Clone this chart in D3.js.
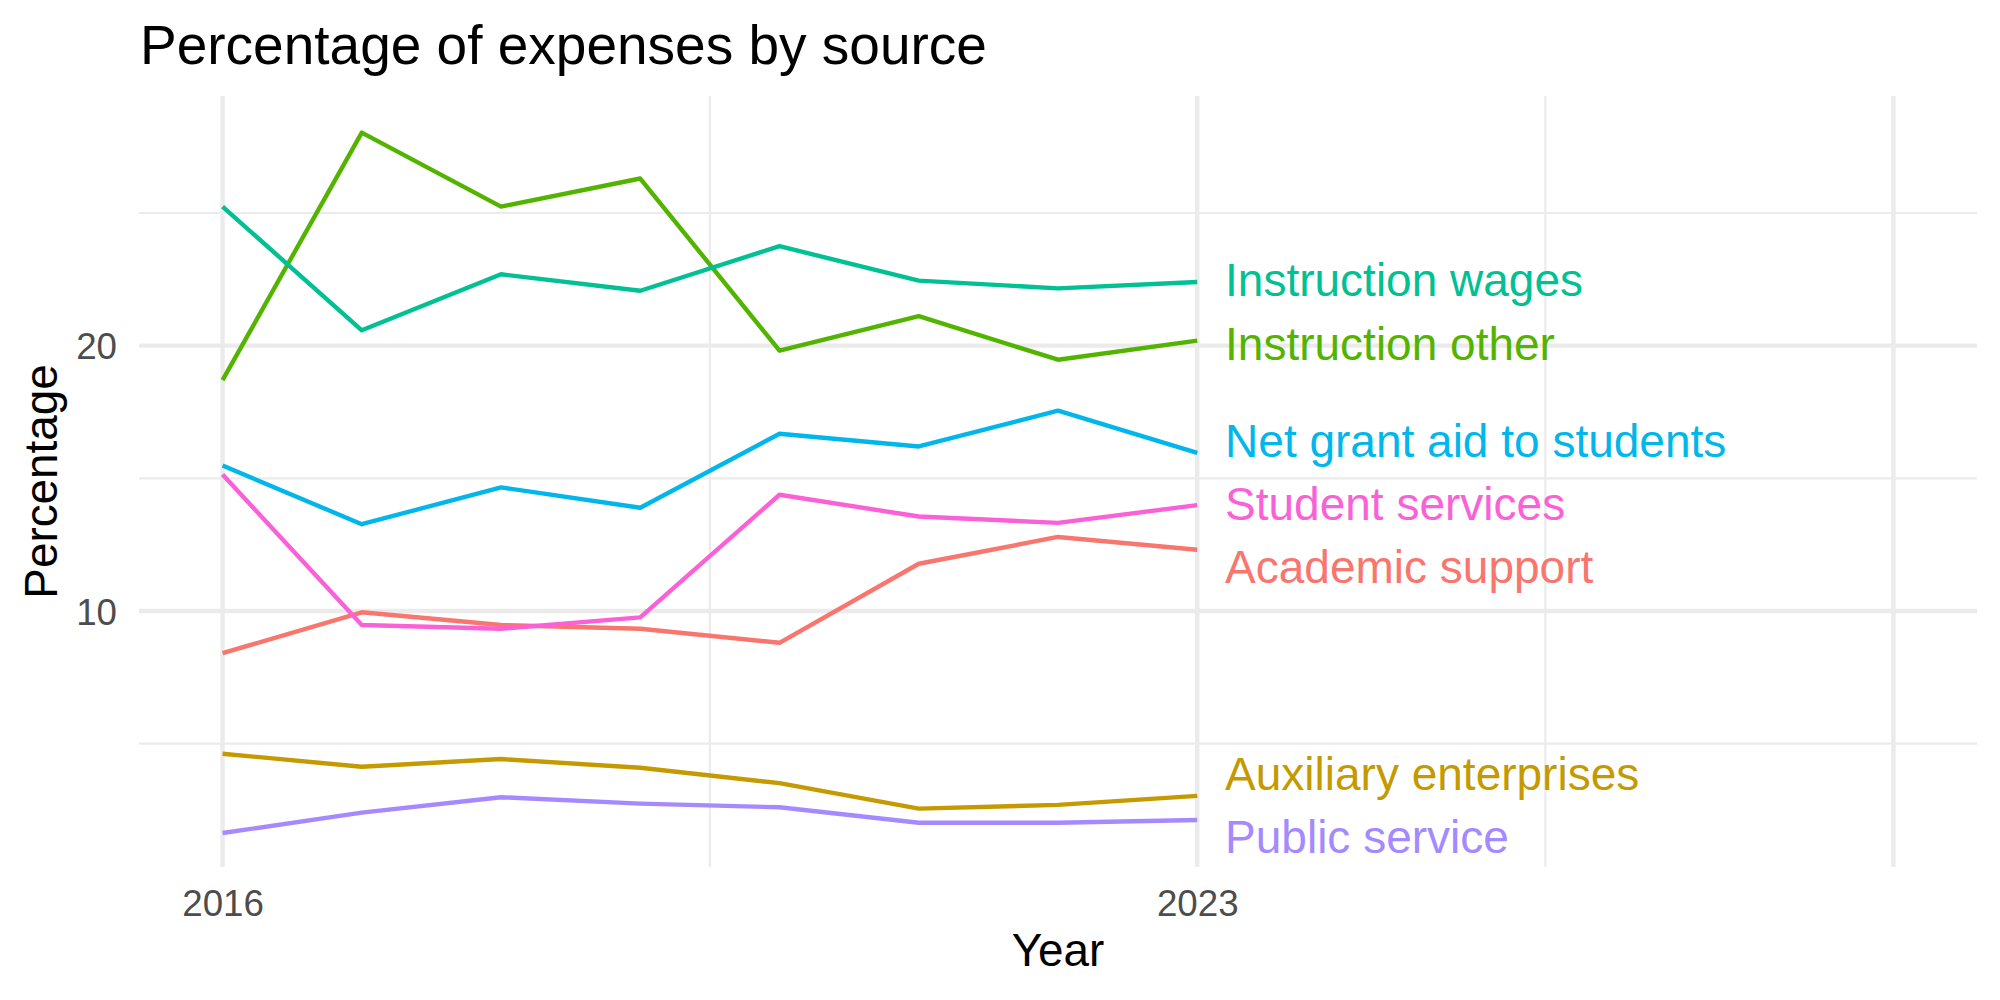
<!DOCTYPE html>
<html>
<head>
<meta charset="utf-8">
<script src="https://cdn.jsdelivr.net/npm/d3@7"></script>
<style>
  body { margin: 0; background: #fff; }
  svg { font-family: "Liberation Sans", Arial, Helvetica, sans-serif; }
</style>
</head>
<body>
<svg id="chart" width="2000" height="1000"></svg>
<script>
// data
const years = [2016, 2017, 2018, 2019, 2020, 2021, 2022, 2023];
const sources = ["Academic support", "Auxiliary enterprises", "Instruction other",
  "Instruction wages", "Net grant aid to students", "Public service", "Student services"];
const academicSupport = [8.41, 9.95, 9.47, 9.33, 8.80, 11.78, 12.79, 12.31];
const auxiliaryEnterprises = [4.62, 4.13, 4.42, 4.09, 3.51, 2.55, 2.69, 3.03];
const instructionOther = [18.70, 28.03, 25.24, 26.30, 19.81, 21.11, 19.47, 20.19];
const instructionWages = [25.24, 20.58, 22.69, 22.07, 23.75, 22.45, 22.16, 22.40];
const netGrantAid = [15.48, 13.27, 14.66, 13.89, 16.68, 16.20, 17.55, 15.96];
const publicService = [1.63, 2.40, 2.98, 2.74, 2.60, 2.02, 2.02, 2.12];
const studentServices = [15.14, 9.47, 9.33, 9.76, 14.38, 13.56, 13.32, 13.99];
// where the end labels sit (after repelling)
const labelValues = [11.68, 3.89, 20.10, 22.48, 16.44, 1.49, 14.04];
const labelYear = 2023.2;

const xBreaks = [2016, 2023, 2028];
const xBreakLabels = ["2016", "2023", ""];
const xMinor = [2019.5, 2025.5];
const yBreaks = [10, 20];
const yMinor = [5, 15, 25];

const colors = ["#F8766D", "#C49A00", "#53B400", "#00C094", "#00B6EB", "#A58AFF", "#FB61D7"];

const seriesValues = [academicSupport, auxiliaryEnterprises, instructionOther,
  instructionWages, netGrantAid, publicService, studentServices];

const series = sources.map((name, i) => ({
  name: name,
  color: colors[i],
  labelY: labelValues[i],
  values: years.map((yr, j) => ({ year: yr, value: seriesValues[i][j] }))
}));

const svg = d3.select("#chart");

// panel
const panelLeft = 139, panelRight = 1977, panelTop = 96, panelBottom = 867;

const x = d3.scaleLinear().domain([2015.4, 2028.6]).range([panelLeft, panelRight]);
const y = d3.scaleLinear().domain([0.35, 29.41]).range([panelBottom, panelTop]);

const grid = svg.append("g");

// minor grid
grid.selectAll(".ymin").data(yMinor).enter().append("line")
  .attr("x1", panelLeft).attr("x2", panelRight)
  .attr("y1", d => y(d)).attr("y2", d => y(d))
  .attr("stroke", "#EBEBEB").attr("stroke-width", 2.2);
grid.selectAll(".xmin").data(xMinor).enter().append("line")
  .attr("y1", panelTop).attr("y2", panelBottom)
  .attr("x1", d => x(d)).attr("x2", d => x(d))
  .attr("stroke", "#EBEBEB").attr("stroke-width", 2.2);

// major grid
grid.selectAll(".ymaj").data(yBreaks).enter().append("line")
  .attr("x1", panelLeft).attr("x2", panelRight)
  .attr("y1", d => y(d)).attr("y2", d => y(d))
  .attr("stroke", "#EBEBEB").attr("stroke-width", 4.4);
grid.selectAll(".xmaj").data(xBreaks).enter().append("line")
  .attr("y1", panelTop).attr("y2", panelBottom)
  .attr("x1", d => x(d)).attr("x2", d => x(d))
  .attr("stroke", "#EBEBEB").attr("stroke-width", 4.4);

// axes (ggplot minimal: no axis lines, no ticks)
const xAxis = svg.append("g")
  .attr("transform", `translate(0,${panelBottom})`)
  .call(d3.axisBottom(x).tickValues(xBreaks).tickFormat((d, i) => xBreakLabels[i]).tickSize(0).tickPadding(49));
xAxis.select(".domain").remove();
xAxis.selectAll("text")
  .attr("fill", "#4D4D4D")
  .attr("dy", 0)
  .style("font-size", "36.7px")
  .style("font-family", "Liberation Sans, Arial, sans-serif");

const yAxis = svg.append("g")
  .attr("transform", `translate(${panelLeft},0)`)
  .call(d3.axisLeft(y).tickValues(yBreaks).tickFormat(d3.format("d")).tickSize(0).tickPadding(22));
yAxis.select(".domain").remove();
yAxis.selectAll("text")
  .attr("fill", "#4D4D4D")
  .attr("dy", "0.36em")
  .style("font-size", "36.7px")
  .style("font-family", "Liberation Sans, Arial, sans-serif");

// lines
const line = d3.line()
  .x(d => x(d.year))
  .y(d => y(d.value));

svg.append("g").selectAll("path")
  .data(series)
  .enter()
  .append("path")
  .attr("d", d => line(d.values))
  .attr("fill", "none")
  .attr("stroke", d => d.color)
  .attr("stroke-width", 4.4)
  .attr("stroke-linejoin", "round");

// end labels
svg.append("g").selectAll("text")
  .data(series)
  .enter()
  .append("text")
  .attr("x", x(labelYear))
  .attr("y", d => y(d.labelY) + 0.36 * 46)
  .attr("fill", d => d.color)
  .style("font-size", "46px")
  .text(d => d.name);

// titles
svg.append("text")
  .attr("x", 140).attr("y", 64)
  .style("font-size", "55px")
  .attr("fill", "#000")
  .text("Percentage of expenses by source");

svg.append("text")
  .attr("x", (panelLeft + panelRight) / 2).attr("y", 966)
  .attr("text-anchor", "middle")
  .style("font-size", "45.8px")
  .text("Year");

svg.append("text")
  .attr("transform", `translate(57,${(panelTop + panelBottom) / 2}) rotate(-90)`)
  .attr("text-anchor", "middle")
  .style("font-size", "45.8px")
  .text("Percentage");
</script>
</body>
</html>
